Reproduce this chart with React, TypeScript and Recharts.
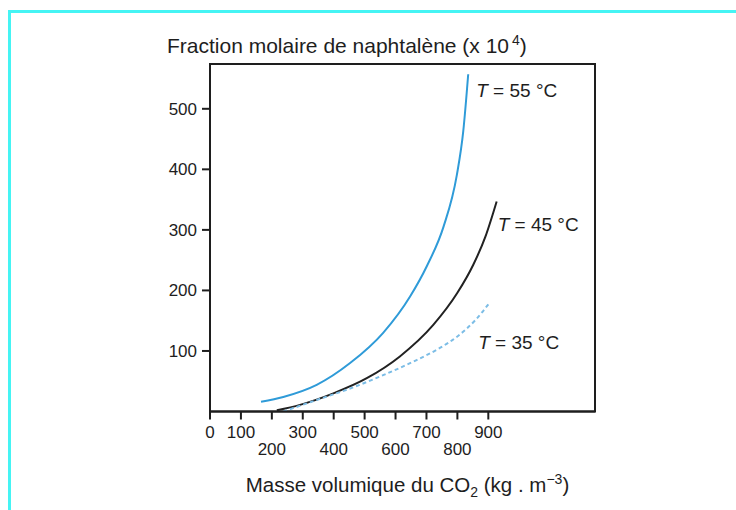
import React from 'react';
import { LineChart, Line, XAxis, YAxis, ReferenceArea } from 'recharts';

// CO2 density (kg/m3) and naphthalene mole fraction (x 10^4)
const density55 = [165, 237, 345, 453, 560, 647, 701, 755, 798, 819, 835];
const fraction55 = [16, 24, 44, 80, 130, 190, 240, 305, 390, 463, 557];
const density45 = [216, 291, 399, 507, 614, 722, 800, 851, 890, 927];
const fraction45 = [2, 11, 30, 55, 91, 143, 196, 242, 288, 347];
const density35 = [237, 345, 453, 560, 668, 740, 800, 860, 906];
const fraction35 = [0, 19, 38, 60, 85, 104, 124, 152, 181];

const xTicks = [0, 100, 200, 300, 400, 500, 600, 700, 800, 900];
const lowerRowTicks = [200, 400, 600, 800];
const yTicks = [100, 200, 300, 400, 500];

const X_MAX = 1245;
const Y_MAX = 574;

const font = '"Liberation Sans", Arial, sans-serif';
const ink = '#1e1e1e';

const toPoints = (xs: number[], ys: number[]) => xs.map((x, i) => ({ x, y: ys[i] }));

const series = [
  { name: '55', data: toPoints(density55, fraction55), color: '#2f9bd8', dash: undefined, dx: 8, dy: 23 },
  { name: '45', data: toPoints(density45, fraction45), color: '#222222', dash: undefined, dx: 1, dy: 30 },
  { name: '35', data: toPoints(density35, fraction35), color: '#7cbde6', dash: '4 3', dx: -12, dy: 47 },
];

function XTick(props: any) {
  const { x, y, payload } = props;
  const lower = lowerRowTicks.includes(payload.value);
  return (
    <text x={x} y={y + (lower ? 33 : 16)} textAnchor="middle" fontSize={17} fontFamily={font} fill={ink}>
      {payload.value}
    </text>
  );
}

function TitleLabel(props: any) {
  const { viewBox } = props;
  return (
    <text x={viewBox.x + 17} y={viewBox.y - 11} fontSize={21} fontFamily={font} fill={ink}>
      Fraction molaire de naphtalène (x 10
      <tspan dx={3} dy={-8} fontSize={14}>4</tspan>
      <tspan dy={8}>)</tspan>
    </text>
  );
}

function AxisTitle(props: any) {
  const { viewBox } = props;
  return (
    <text x={viewBox.x + viewBox.width / 2 + 5} y={viewBox.y + 80} textAnchor="middle" fontSize={20.5} fontFamily={font} fill={ink}>
      Masse volumique du CO
      <tspan dy={5} fontSize={14}>2</tspan>
      <tspan dy={-5}> (kg . m</tspan>
      <tspan dy={-8} fontSize={14}>−3</tspan>
      <tspan dy={8}>)</tspan>
    </text>
  );
}

const curveLabel = (name: string, last: number, dx: number, dy: number) => (props: any) => {
  if (props.index !== last) return null;
  return (
    <text key={name} x={props.x + dx} y={props.y + dy} fontSize={19} fontFamily={font} fill={ink}>
      <tspan fontStyle="italic">T</tspan> = {name} °C
    </text>
  );
};

export default function App() {
  return (
    <div style={{ position: 'absolute', left: 0, top: 0, width: 736, height: 510, background: '#fff' }}>
      <div
        style={{
          position: 'absolute',
          left: 8,
          top: 10,
          right: 0,
          bottom: 0,
          borderTop: '3px solid #45f4f4',
          borderLeft: '3px solid #45f4f4',
        }}
      />
      <div style={{ position: 'absolute', left: 0, top: 0 }}>
        <LineChart width={736} height={510} margin={{ top: 64, right: 141, left: 150, bottom: 38.5 }}>
          <XAxis
            type="number"
            dataKey="x"
            domain={[0, X_MAX]}
            ticks={xTicks}
            allowDataOverflow
            height={60}
            stroke={ink}
            strokeWidth={2}
            tickSize={8}
            tick={<XTick />}
            label={<AxisTitle />}
          />
          <YAxis
            type="number"
            dataKey="y"
            domain={[0, Y_MAX]}
            ticks={yTicks}
            allowDataOverflow
            width={60}
            stroke={ink}
            strokeWidth={2}
            tickSize={8}
            tickMargin={5}
            tick={{ fontSize: 17, fontFamily: font, fill: ink }}
            label={<TitleLabel />}
          />
          <ReferenceArea x1={0} x2={X_MAX} y1={0} y2={Y_MAX} fill="none" stroke={ink} strokeWidth={2} />
          {series.map((s) => (
            <Line
              key={s.name}
              data={s.data}
              dataKey="y"
              type="monotone"
              stroke={s.color}
              strokeWidth={2}
              strokeDasharray={s.dash}
              dot={false}
              isAnimationActive={false}
              label={curveLabel(s.name, s.data.length - 1, s.dx, s.dy)}
            />
          ))}
        </LineChart>
      </div>
    </div>
  );
}
